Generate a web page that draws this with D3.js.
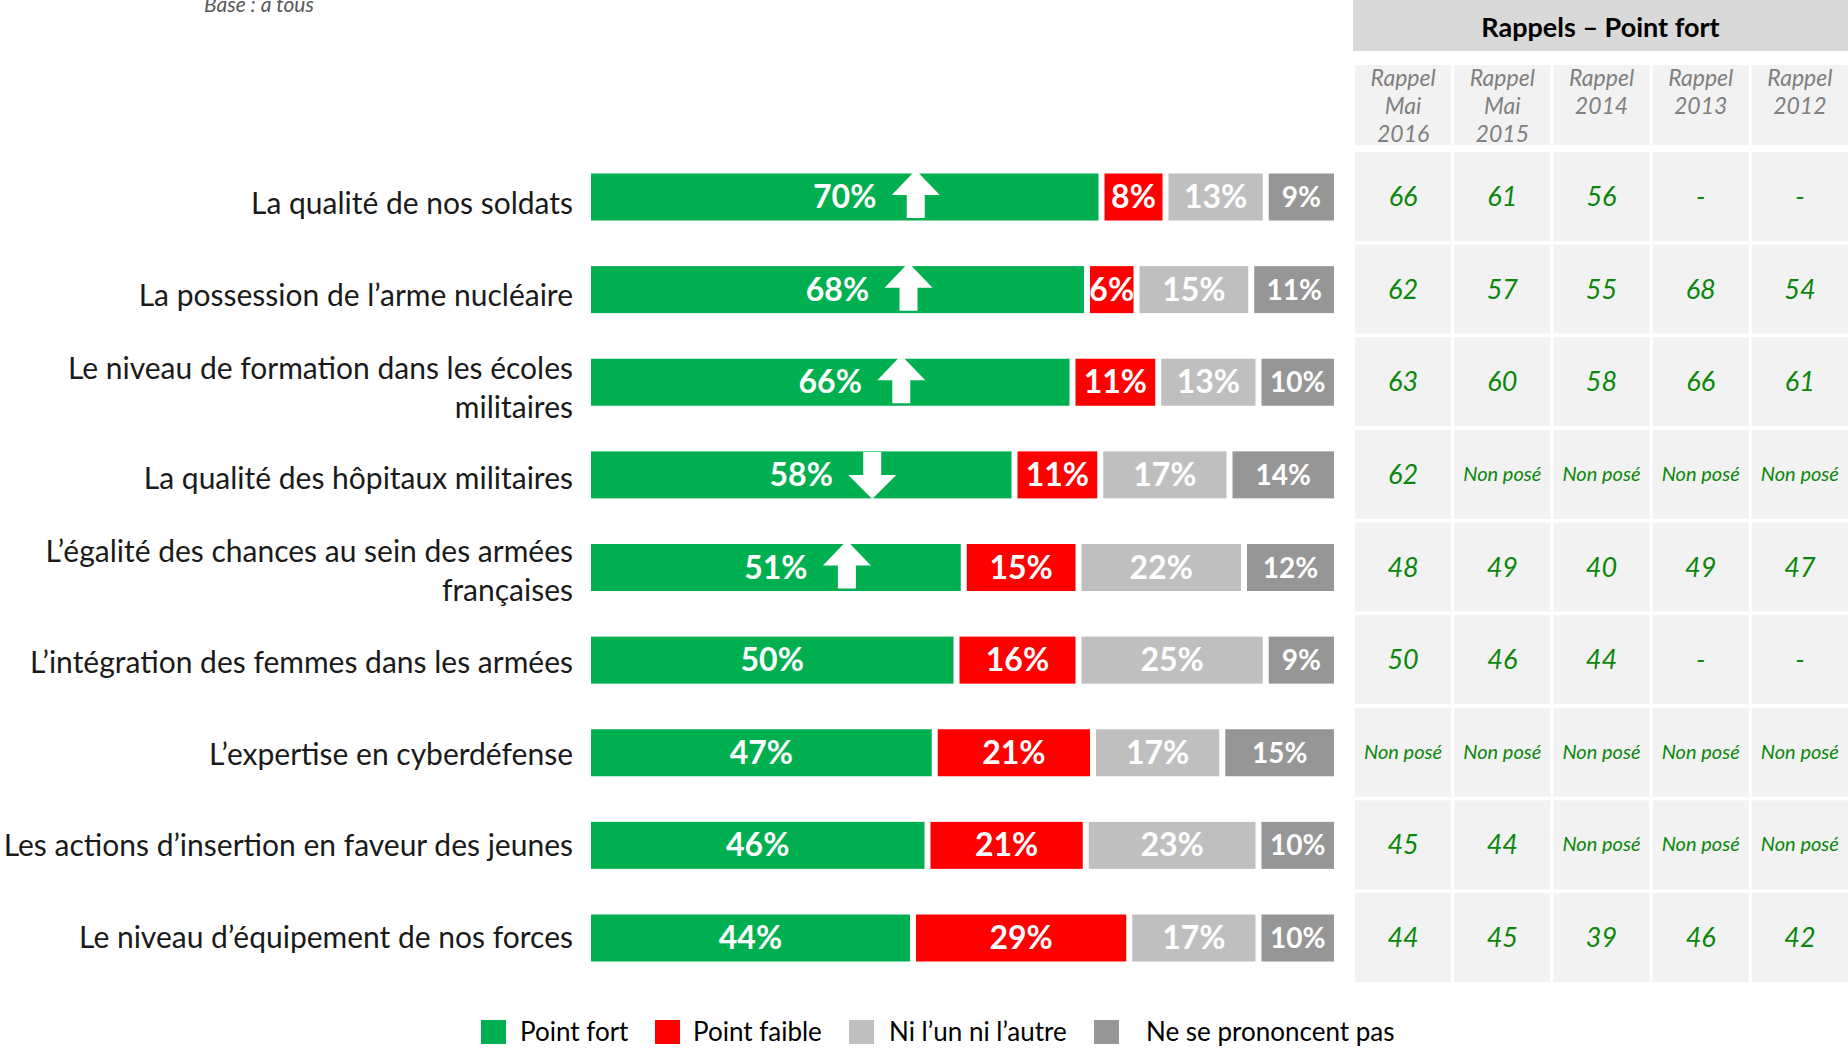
<!DOCTYPE html>
<html>
<head>
<meta charset="utf-8">
<script src="https://cdn.jsdelivr.net/npm/d3@7"></script>
<style>
  html, body { margin: 0; padding: 0; background: #fff; }
  svg { display: block; }
</style>
</head>
<body>
<div id="chart"></div>
<script>
const categories = [
  ["La qualité de nos soldats"],
  ["La possession de l’arme nucléaire"],
  ["Le niveau de formation dans les écoles", "militaires"],
  ["La qualité des hôpitaux militaires"],
  ["L’égalité des chances au sein des armées", "françaises"],
  ["L’intégration des femmes dans les armées"],
  ["L’expertise en cyberdéfense"],
  ["Les actions d’insertion en faveur des jeunes"],
  ["Le niveau d’équipement de nos forces"]
]
const seriesNames = ["Point fort", "Point faible", "Ni l’un ni l’autre", "Ne se prononcent pas"]
const pointFort = [70, 68, 66, 58, 51, 50, 47, 46, 44]
const pointFaible = [8, 6, 11, 11, 15, 16, 21, 21, 29]
const niNi = [13, 15, 13, 17, 22, 25, 17, 23, 17]
const nsp = [9, 11, 10, 14, 12, 9, 15, 10, 10]
// evolution arrows next to "Point fort" (up / down / none)
const trend = ["up", "up", "up", "down", "up", null, null, null, null]

const rappelCols = [["Rappel", "Mai", "2016"], ["Rappel", "Mai", "2015"], ["Rappel", "2014"], ["Rappel", "2013"], ["Rappel", "2012"]]
const rappels = [
  ["66", "61", "56", "-", "-"],
  ["62", "57", "55", "68", "54"],
  ["63", "60", "58", "66", "61"],
  ["62", "Non posé", "Non posé", "Non posé", "Non posé"],
  ["48", "49", "40", "49", "47"],
  ["50", "46", "44", "-", "-"],
  ["Non posé", "Non posé", "Non posé", "Non posé", "Non posé"],
  ["45", "44", "Non posé", "Non posé", "Non posé"],
  ["44", "45", "39", "46", "42"]
]

const COLORS = ["#00b050", "#ff0000", "#bfbfbf", "#969696"]
const FONT = "Lato, 'Open Sans', sans-serif"
const W = 1848, H = 1050
const BAR_LEFT = 591, BAR_RIGHT = 1334, GAP = 6, BAR_H = 47

const svg = d3.select("#chart").append("svg")
  .attr("width", W).attr("height", H)
  .style("font-family", FONT)

const idx = d3.range(categories.length)
const y = d3.scalePoint().domain(idx).range([197, 938])
// the text boxes on the slide sit on a slightly tighter grid than the bars
const yLabel = d3.scalePoint().domain(idx).range([204, 938])
const x = d3.scaleLinear().domain([0, 100]).range([0, BAR_RIGHT - BAR_LEFT - 3 * GAP])

// Base text (cut at top, as in the slide)
svg.append("text")
  .attr("x", 204).attr("y", 12)
  .attr("font-size", "21px").attr("font-style", "italic")
  .attr("fill", "#595959")
  .text("Base : à tous")

// Category labels
const lab = svg.append("g")
idx.forEach(i => {
  const lines = categories[i]
  const t = lab.append("text")
    .attr("x", 573)
    .attr("y", lines.length > 1 ? yLabel(i) - 9 : yLabel(i) + 10)
    .attr("text-anchor", "end")
    .attr("font-size", "30px")
    .attr("fill", "#1a1a1a")
  lines.forEach((l, k) => {
    t.append("tspan").attr("x", 573).attr("dy", k === 0 ? 0 : 39).text(l)
  })
})

// Bars
const series = [pointFort, pointFaible, niNi, nsp]
const barG = svg.append("g")
idx.forEach(i => {
  let cum = BAR_LEFT
  series.forEach((s, j) => {
    const w = x(s[i])
    barG.append("rect")
      .attr("x", cum).attr("y", y(i) - BAR_H / 2)
      .attr("width", w).attr("height", BAR_H)
      .attr("fill", COLORS[j])
    const cx = cum + w / 2
    barG.append("text")
      .attr("x", cx).attr("y", y(i) + (j === 3 ? 10 : 11))
      .attr("text-anchor", "middle")
      .attr("font-size", j === 3 ? "28px" : "32px")
      .attr("font-weight", "bold")
      .attr("fill", "#fff")
      .text(s[i] + "%")

    if (j === 0 && trend[i]) {
      const ax = cx + 71, ay = y(i)
      const d = trend[i] === "up"
        ? [[0, -27], [24, -2], [9, -2], [9, 21], [-9, 21], [-9, -2], [-24, -2]]
        : [[0, 24], [24, 0], [9, 0], [9, -23], [-9, -23], [-9, 0], [-24, 0]]
      barG.append("path")
        .attr("d", d3.line()(d.map(p => [ax + p[0], ay + p[1]])) + "Z")
        .attr("fill", "#fff")
    }
    cum += w + GAP
  })
})

// Rappels table
const TX = 1353, TW = W - TX
const colX = d3.scaleBand().domain(d3.range(5)).range([TX + 2, W]).paddingInner(0.03)
const tbl = svg.append("g")

tbl.append("rect").attr("x", TX).attr("y", 0).attr("width", TW).attr("height", 51).attr("fill", "#d9d9d9")
tbl.append("text")
  .attr("x", TX + TW / 2).attr("y", 37)
  .attr("text-anchor", "middle")
  .attr("font-size", "27px").attr("font-weight", "bold")
  .attr("fill", "#000")
  .text("Rappels – Point fort")

rappelCols.forEach((lines, c) => {
  tbl.append("rect")
    .attr("x", colX(c)).attr("y", 65)
    .attr("width", colX.bandwidth()).attr("height", 80)
    .attr("fill", "#f2f2f2")
  lines.forEach((l, k) => {
    tbl.append("text")
      .attr("x", colX(c) + colX.bandwidth() / 2).attr("y", 86 + k * 28)
      .attr("text-anchor", "middle")
      .attr("font-size", "23px").attr("font-style", "italic")
      .attr("fill", "#808080")
      .text(l)
  })
})

idx.forEach(i => {
  rappels[i].forEach((v, c) => {
    tbl.append("rect")
      .attr("x", colX(c)).attr("y", y(i) - 45)
      .attr("width", colX.bandwidth()).attr("height", 89)
      .attr("fill", "#f2f2f2")
    const small = v === "Non posé"
    tbl.append("text")
      .attr("x", colX(c) + colX.bandwidth() / 2).attr("y", y(i) + (small ? 6 : 9))
      .attr("text-anchor", "middle")
      .attr("font-size", small ? "20px" : "27px").attr("font-style", "italic")
      .attr("fill", "#0b870b")
      .text(v)
  })
})

// Legend
const legX = [481, 655, 849, 1094]
const legTX = [520, 693, 889, 1146]
const leg = svg.append("g")
seriesNames.forEach((n, j) => {
  leg.append("rect")
    .attr("x", legX[j]).attr("y", 1020)
    .attr("width", 25).attr("height", 24)
    .attr("fill", COLORS[j])
  leg.append("text")
    .attr("x", legTX[j]).attr("y", 1041)
    .attr("font-size", "26px").attr("fill", "#000")
    .text(n)
})
</script>
</body>
</html>
